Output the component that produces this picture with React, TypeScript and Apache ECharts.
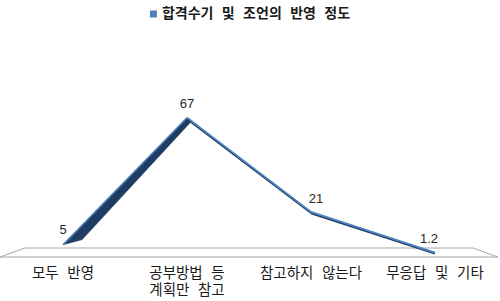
import React, { useEffect, useRef } from "react";
import * as echarts from "echarts";

const categories = ["모두 반영", "공부방법 등\n계획만 참고", "참고하지 않는다", "무응답 및 기타"];
const values = [5, 67, 21, 1.2];
const seriesName = "합격수기 및 조언의 반영 정도";
const labelOffsets: number[][] = [[0, -3], [0, -2], [5, -1], [-6, -2]];

const KFONT = "'Liberation Mono', 'Noto Sans CJK KR', sans-serif";

export default function App() {
  const ref = useRef<HTMLDivElement>(null);
  useEffect(() => {
    if (!ref.current) return;
    const chart = echarts.init(ref.current, undefined, { renderer: "svg" });
    const segs = values.slice(0, -1).map((v, i) => [i, v, values[i + 1]]);
    const option: any = {
      animation: false,
      backgroundColor: "#ffffff",
      legend: {
        top: 2,
        left: "center",
        itemWidth: 7,
        itemHeight: 7,
        itemGap: 4,
        icon: "rect",
        data: [{ name: seriesName, icon: "rect", itemStyle: { color: "#4F81BD" } }],
        textStyle: { fontFamily: KFONT, fontSize: 14, fontWeight: "bold", color: "#1a1a1a" },
      },
      grid: { left: 1, right: 3, top: 50, bottom: 46 },
      xAxis: {
        type: "category",
        data: categories,
        boundaryGap: true,
        axisLine: { show: false },
        axisTick: { show: false },
        axisLabel: {
          interval: 0,
          margin: 10,
          fontFamily: KFONT,
          fontSize: 14.5,
          lineHeight: 17,
          color: "#1a1a1a",
        },
      },
      yAxis: { type: "value", min: 0, max: 100, show: false, splitLine: { show: false } },
      graphic: [
        {
          type: "polygon",
          z: 0,
          shape: { points: [[25, 248], [473, 248], [498, 257], [0, 257]] },
          style: { fill: "#ffffff", stroke: "#A6A6A6", lineWidth: 1 },
        },
      ],
      series: [
        {
          type: "custom",
          name: seriesName,
          z: 5,
          data: segs,
          encode: { x: 0, y: 1 },
          color: "#4F81BD",
          renderItem: (params: any, api: any) => {
            const i = api.value(0);
            const p1 = api.coord([i, api.value(1)]);
            const p2 = api.coord([i + 1, api.value(2)]);
            if (p2[1] < p1[1]) {
              return {
                type: "group",
                children: [
                  {
                    type: "polygon",
                    shape: { points: [p1, p2, [p2[0] + 5, p2[1] + 3], [p1[0] + 19, p1[1] - 5]] },
                    style: { fill: "#1F3D63", stroke: "#21426B", lineWidth: 0.5 },
                  },
                  {
                    type: "line",
                    shape: { x1: p1[0], y1: p1[1], x2: p2[0], y2: p2[1] },
                    style: { stroke: "#4F81BD", lineWidth: 1.5 },
                  },
                ],
              };
            }
            return {
              type: "group",
              children: [
                {
                  type: "line",
                  shape: { x1: p1[0], y1: p1[1] + 1.5, x2: p2[0], y2: p2[1] + 1 },
                  style: { stroke: "#1F3D63", lineWidth: 1.8 },
                },
                {
                  type: "line",
                  shape: { x1: p1[0], y1: p1[1], x2: p2[0], y2: p2[1] },
                  style: { stroke: "#4F81BD", lineWidth: 1.8 },
                },
              ],
            };
          },
        },
        {
          type: "line",
          name: "labels",
          data: values.map((v, i) => ({ value: v, label: { offset: labelOffsets[i] } })),
          symbol: "circle",
          symbolSize: 1,
          showSymbol: true,
          itemStyle: { color: "rgba(0,0,0,0)" },
          lineStyle: { opacity: 0 },
          silent: true,
          z: 6,
          label: {
            show: true,
            position: "top",
            distance: 5,
            fontFamily: "Liberation Sans",
            fontSize: 13,
            color: "#262626",
          },
        },
      ],
    };
    chart.setOption(option);
    return () => chart.dispose();
  }, []);
  return <div ref={ref} style={{ width: 500, height: 301, position: "absolute", left: 0, top: 0 }} />;
}
